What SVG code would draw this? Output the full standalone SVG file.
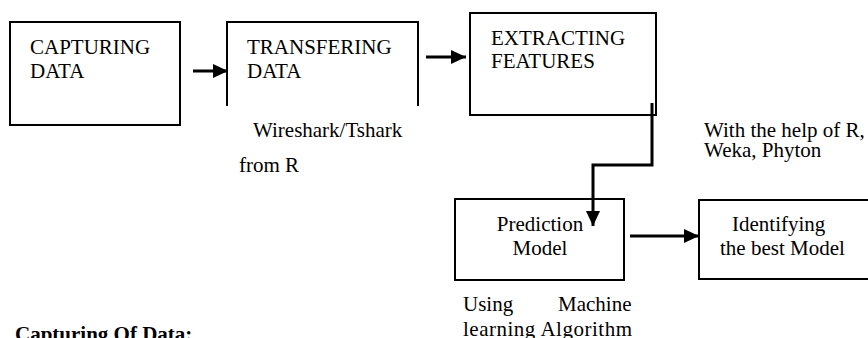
<svg xmlns="http://www.w3.org/2000/svg" width="868" height="338" viewBox="0 0 868 338">
<style>
  text { font-family: 'Liberation Serif', serif; font-size: 21px; fill: #000; }
  .box { fill: none; stroke: #000; stroke-width: 2; }
  .conn { fill: none; stroke: #000; stroke-width: 3; }
  .bold { font-weight: bold; }
</style>
<defs>
  <marker id="arrow" markerUnits="userSpaceOnUse" markerWidth="16" markerHeight="16" viewBox="0 0 16 16" refX="15" refY="8" orient="auto">
    <path d="M0,1 L15,8 L0,15 Z" fill="#000"/>
  </marker>
</defs>
<rect width="868" height="338" fill="#fff"/>

<g id="node-capturing">
  <rect class="box" x="10" y="22" width="170" height="103"/>
  <text x="30" y="54">CAPTURING</text>
  <text x="30" y="78">DATA</text>
</g>

<g id="node-transfering">
  <path class="box" d="M227,106 V22 H418 V106"/>
  <text x="247" y="54">TRANSFERING</text>
  <text x="247" y="78">DATA</text>
</g>

<g id="node-extracting">
  <rect class="box" x="470" y="13" width="186" height="102"/>
  <text x="491" y="45">EXTRACTING</text>
  <text x="491" y="68">FEATURES</text>
</g>

<g id="node-prediction">
  <rect class="box" x="455" y="199" width="169" height="81"/>
  <text x="540" y="231" text-anchor="middle">Prediction</text>
  <text x="540" y="255" text-anchor="middle">Model</text>
</g>

<g id="node-identifying">
  <path class="box" d="M870,200 H699 V279 H870"/>
  <text x="732" y="231">Identifying</text>
  <text x="720" y="255">the best Model</text>
</g>

<g id="connectors">
  <line class="conn" x1="193" y1="71" x2="228" y2="71" marker-end="url(#arrow)"/>
  <line class="conn" x1="426" y1="57" x2="466" y2="57" marker-end="url(#arrow)"/>
  <polyline class="conn" points="652,103 652,165 593,165 593,226" marker-end="url(#arrow)"/>
  <line class="conn" x1="630" y1="236" x2="699" y2="236" marker-end="url(#arrow)"/>
</g>

<g id="labels">
  <text x="253" y="137">Wireshark/Tshark</text>
  <text x="239" y="172">from R</text>
  <text x="704" y="137">With the help of R,</text>
  <text x="704" y="157">Weka, Phyton</text>
  <text y="311"><tspan x="463">Using</tspan><tspan x="558">Machine</tspan></text>
  <text x="463" y="336" textLength="169" lengthAdjust="spacing">learning Algorithm</text>
  <text class="bold" x="15" y="341">Capturing Of Data:</text>
</g>
</svg>
